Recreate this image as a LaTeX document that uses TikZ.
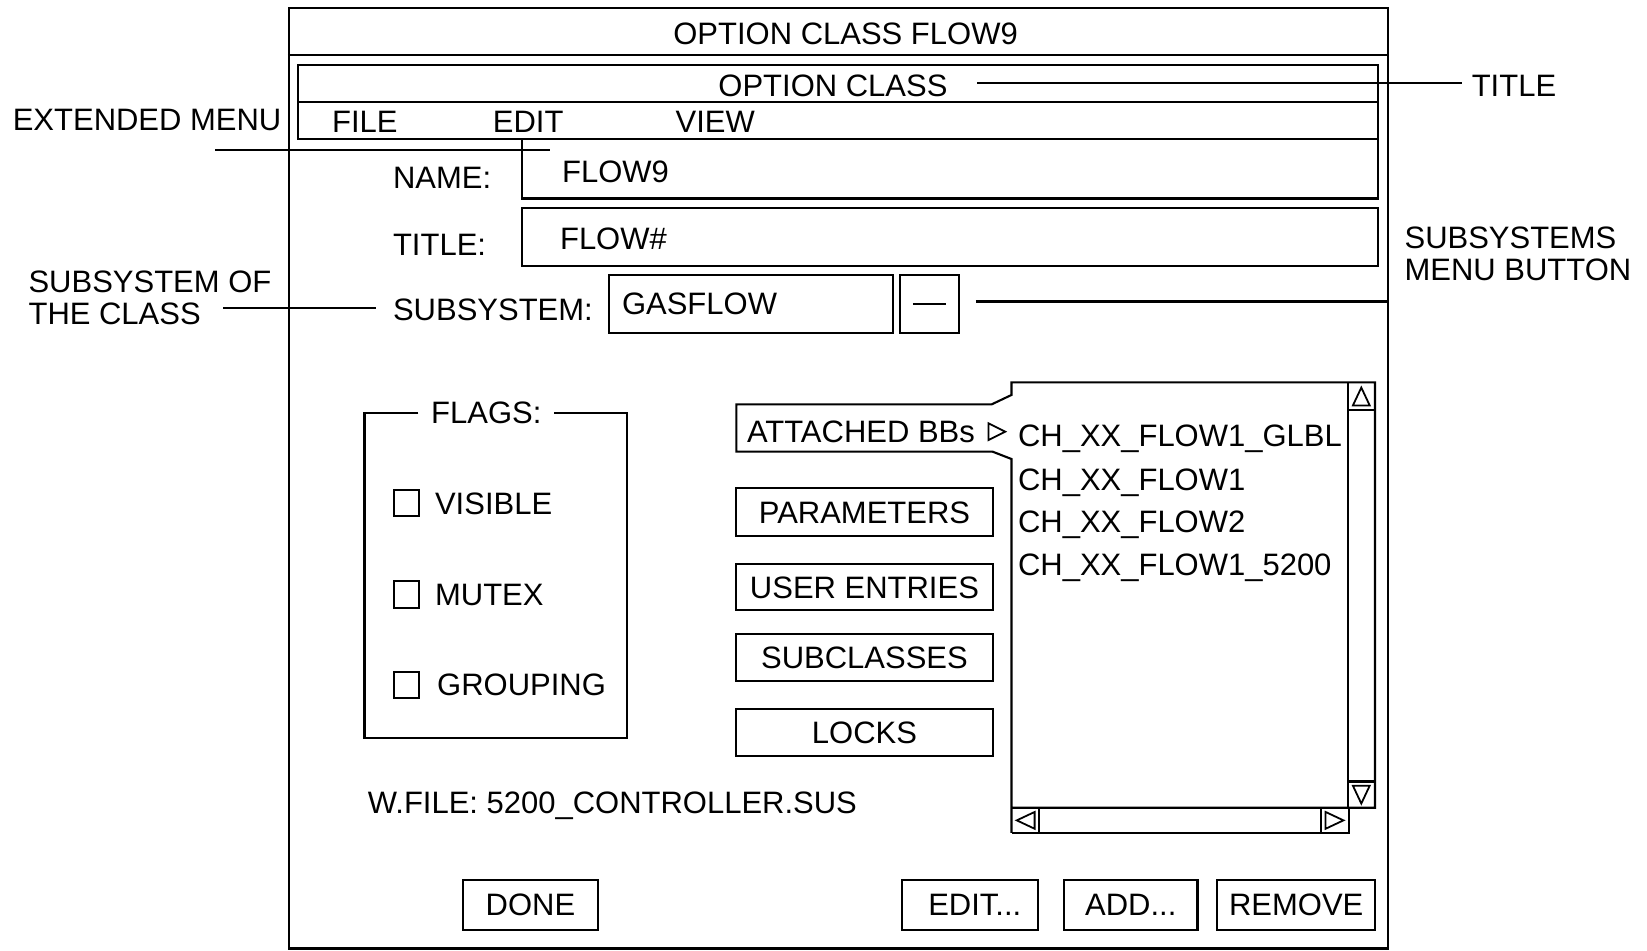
\documentclass[tikz,border=0pt]{standalone}
\usepackage{fontspec}
\setmainfont{Liberation Sans}
\newcommand\uifont{\fontsize{29.5}{34}\selectfont}
\begin{document}
\begin{tikzpicture}[x=1pt,y=-1pt,
  ln/.style={line width=2pt},
  txt/.style={inner sep=0pt, text height=21pt, text depth=0pt, font=\uifont},
  frame/.style={draw, line width=2pt, inner sep=0pt},
  btn/.style={draw, line width=2pt, inner sep=0pt, text height=21pt, text depth=0pt, font=\uifont},
  cbox/.style={draw, line width=1.8pt, minimum width=24pt, minimum height=25pt, inner sep=0pt},
  tri/.style={line width=1.7pt, line join=miter}]
\useasboundingbox (0,0) rectangle (1568,905);

% window and title bar
\node[frame, minimum width=1046pt, minimum height=895pt] (win) at (798,455.5) {};
\draw[ln] (win.west |- 0,52) -- (win.east |- 0,52);
\node[txt] (wintitle) at (805,32) {OPTION CLASS FLOW9};

% option class bar and menu bar
\node[frame, minimum width=1028pt, minimum height=35pt] (titlebar) at (798,79.5) {};
\node[txt] (octitle) at (793,81) {OPTION CLASS};
\node[frame, minimum width=1028pt, minimum height=35pt] (menubar) at (798,114.5) {};
\node[txt, anchor=west] (mfile) at (316,116) {FILE};
\node[txt, anchor=west] (medit) at (469,116) {EDIT};
\node[txt, anchor=west] (mview) at (643,116) {VIEW};

% fields
\node[txt, anchor=west] (namelbl) at (374,169) {NAME:};
\node[frame, minimum width=815pt, minimum height=57pt] (namebox) at (904.5,160.5) {};
\node[txt, anchor=west] (nameval) at (535,163) {FLOW9};
\node[txt, anchor=west] (titlelbl2) at (374,233) {TITLE:};
\node[frame, minimum width=815pt, minimum height=55pt] (titlebox) at (904.5,225.5) {};
\node[txt, anchor=west] (titleval) at (533,227) {FLOW\#};
\node[txt, anchor=west] (subsyslbl) at (374,295) {SUBSYSTEM:};
\node[frame, minimum width=270pt, minimum height=55pt] (subsysbox) at (715,289.5) {};
\node[txt, anchor=west] (subsysval) at (592,289) {GASFLOW};
\node[frame, minimum width=56pt, minimum height=55pt] (menubtn) at (885,289.5) {};
\draw[ln] ([xshift=-16pt]menubtn.center) -- ([xshift=16pt]menubtn.center);

% annotations
\node[txt, anchor=west] (titleann) at (1401,81) {TITLE};
\node[txt, anchor=west] (extann) at (12,114) {EXTENDED MENU};
\node[txt, anchor=west] (ssbtn1) at (1337,226) {SUBSYSTEMS};
\node[txt, anchor=west] (ssbtn2) at (1337,257) {MENU BUTTON};
\node[txt, anchor=west] (ssof1) at (27,268) {SUBSYSTEM OF};
\node[txt, anchor=west] (ssof2) at (27,298) {THE CLASS};

\draw[ln] ([xshift=28pt,yshift=2pt]octitle.east) -- ([xshift=-9pt]titleann.west |- 0,79);
\coordinate (em1) at (205,143);
\coordinate (em2) at (524,143);
\draw[ln] (em1) -- (em2);
\draw[ln] ([xshift=21pt]ssof2.east |- 0,293) -- ([xshift=-16pt]subsyslbl.west |- 0,293);
\draw[ln] ([xshift=15pt]menubtn.east |- 0,287) -- (win.east |- 0,287);

% flags group
\node[txt] (flags) at (463,393) {FLAGS:};
\draw[ln] ([xshift=-12pt]flags.west) -- (347,393) -- (347,703) -- (597,703) -- (597,393) -- ([xshift=12pt]flags.east);
\node[cbox] (cbvis) at (387,479) {};
\node[txt, anchor=west] (vis) at (414,479) {VISIBLE};
\node[cbox] (cbmut) at (387,566) {};
\node[txt, anchor=west] (mut) at (414,566) {MUTEX};
\node[cbox] (cbgrp) at (387,652) {};
\node[txt, anchor=west] (grp) at (416,652) {GROUPING};

% attached BBs tab and list
\draw[ln, line join=miter] (963,793) -- (963,437) -- (945,430) -- (701,430) -- (701,385) -- (944,385) -- (963,376) -- (963,364) -- (1309,364) -- (1309,769) -- (963,769);
\node[txt, anchor=west] (attached) at (711,411) {ATTACHED BBs};
\draw[tri] (941,403) -- (941,419) -- (957,411) -- cycle;
\node[txt, anchor=west] (item1) at (969,415) {CH\_XX\_FLOW1\_GLBL};
\node[txt, anchor=west] (item2) at (969,456) {CH\_XX\_FLOW1};
\node[txt, anchor=west] (item3) at (969,496) {CH\_XX\_FLOW2};
\node[txt, anchor=west] (item4) at (969,537) {CH\_XX\_FLOW1\_5200};
% vertical scrollbar
\draw[ln] (1283,364) -- (1283,769);
\draw[ln] (1283,390) -- (1309,390);
\draw[ln] (1283,744) -- (1309,744);
\draw[tri] (1288,386) -- (1304,386) -- (1296,369) -- cycle;
\draw[tri] (1288,748) -- (1304,748) -- (1296,765) -- cycle;
% horizontal scrollbar
\draw[ln] (963,793) -- (1284,793) -- (1284,769);
\draw[ln] (989,769) -- (989,793);
\draw[ln] (1258,769) -- (1258,793);
\draw[tri] (985,773) -- (985,789) -- (968,781) -- cycle;
\draw[tri] (1262,773) -- (1262,789) -- (1279,781) -- cycle;

% side buttons
\node[btn, minimum width=244pt, minimum height=45pt] (params) at (823,487.5) {PARAMETERS};
\node[btn, minimum width=244pt, minimum height=44pt] (users) at (823,559) {USER ENTRIES};
\node[btn, minimum width=244pt, minimum height=44pt] (subcl) at (823,626) {SUBCLASSES};
\node[btn, minimum width=244pt, minimum height=45pt] (locks) at (823,697.5) {LOCKS};

% file line
\node[txt, anchor=west] (wfile) at (350,764) {W.FILE: 5200\_CONTROLLER.SUS};

% bottom buttons
\node[btn, minimum width=128pt, minimum height=47pt] (done) at (505,861.5) {DONE};
\node[btn, minimum width=129pt, minimum height=47pt] (editb) at (923.5,861.5) {\hspace*{9pt}EDIT...};
\node[btn, minimum width=127pt, minimum height=47pt] (addb) at (1076.5,861.5) {ADD...};
\node[btn, minimum width=150pt, minimum height=47pt] (removeb) at (1234,861.5) {REMOVE};
\end{tikzpicture}
\end{document}
